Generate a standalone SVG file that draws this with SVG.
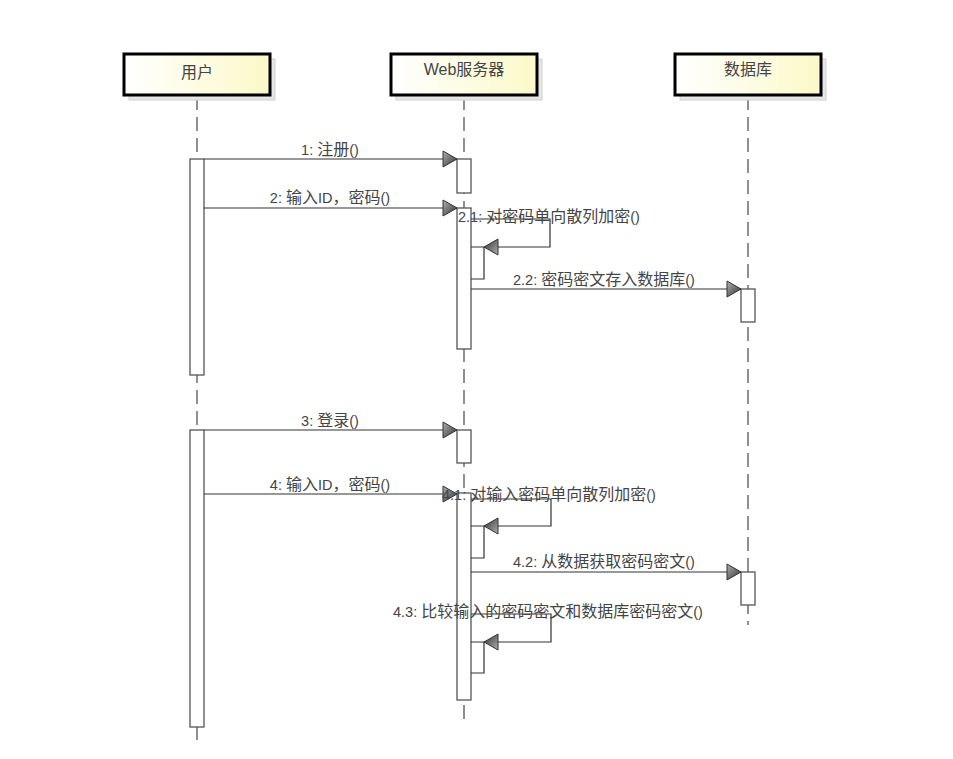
<svg xmlns="http://www.w3.org/2000/svg" width="953" height="759" viewBox="0 0 953 759">
<defs>
<linearGradient id="boxg" x1="0" y1="0" x2="1" y2="0">
<stop offset="0" stop-color="#ffffff"/>
<stop offset="1" stop-color="#fbf9c8"/>
</linearGradient>
<linearGradient id="arrg" x1="0" y1="0" x2="1" y2="1">
<stop offset="0" stop-color="#b0b0b0"/>
<stop offset="1" stop-color="#303030"/>
</linearGradient>
<marker id="arr" markerWidth="16" markerHeight="18" refX="15" refY="9" orient="auto" markerUnits="userSpaceOnUse">
<path d="M1,1 L15,9 L1,17 Z" fill="url(#arrg)" stroke="#333" stroke-width="1"/>
</marker>
</defs>
<style>
.shadow{fill:#e6e6e6;stroke:#d0d0d0;stroke-width:1}
.box{fill:url(#boxg);stroke:#000;stroke-width:3}
.title{font-family:"Liberation Sans","Noto Sans CJK SC",sans-serif;font-size:16px;fill:#444;text-anchor:middle}
.life{stroke:#555;stroke-width:1.3;stroke-dasharray:14 7;fill:none}
.act{fill:#fff;stroke:#555;stroke-width:1.3}
.msg{stroke:#333;stroke-width:1.2;fill:none}
.lbl{font-family:"Liberation Sans","Noto Sans CJK SC",sans-serif;font-size:16px;fill:#444}
.lt{font-size:14.5px}
</style>
<rect width="953" height="759" fill="#fff"/>
<g id="lifelines">
<line class="life" x1="197" y1="96" x2="197" y2="746"/>
<line class="life" x1="464" y1="96" x2="464" y2="720"/>
<line class="life" x1="748" y1="96" x2="748" y2="625"/>
</g>
<g id="user">
<rect class="shadow" x="129" y="59" width="146" height="41"/>
<rect class="box" x="124" y="54" width="146" height="41"/>
<text class="title" x="197" y="78">用户</text>
</g>
<g id="web">
<rect class="shadow" x="396" y="59" width="146" height="41"/>
<rect class="box" x="391" y="54" width="146" height="41"/>
<text class="title" x="464" y="75">Web服务器</text>
</g>
<g id="db">
<rect class="shadow" x="680" y="59" width="146" height="41"/>
<rect class="box" x="675" y="54" width="146" height="41"/>
<text class="title" x="748" y="75">数据库</text>
</g>
<g id="activations">
<rect class="act" x="190" y="159" width="14" height="216"/>
<rect class="act" x="190" y="430" width="14" height="297"/>
<rect class="act" x="457" y="159" width="14" height="34"/>
<rect class="act" x="457" y="208" width="14" height="141"/>
<rect class="act" x="457" y="430" width="14" height="33"/>
<rect class="act" x="457" y="493" width="14" height="207"/>
<rect class="act" x="741" y="289" width="14" height="33"/>
<rect class="act" x="741" y="572" width="14" height="33"/>
</g>
<g id="connectors">
<line class="msg" x1="204" y1="159" x2="457" y2="159" marker-end="url(#arr)"/>
<line class="msg" x1="204" y1="208" x2="457" y2="208" marker-end="url(#arr)"/>
<polyline class="msg" points="471,219 550,219 550,247 484,247" marker-end="url(#arr)"/>
<polyline class="msg" points="471,247 484,247 484,279 471,279"/>
<line class="msg" x1="471" y1="289" x2="741" y2="289" marker-end="url(#arr)"/>
<line class="msg" x1="204" y1="430" x2="457" y2="430" marker-end="url(#arr)"/>
<line class="msg" x1="204" y1="494" x2="457" y2="494" marker-end="url(#arr)"/>
<polyline class="msg" points="471,499 551,499 551,526 484,526" marker-end="url(#arr)"/>
<polyline class="msg" points="471,526 484,526 484,558 471,558"/>
<line class="msg" x1="471" y1="572" x2="741" y2="572" marker-end="url(#arr)"/>
<polyline class="msg" points="471,614 551,614 551,642 484,642" marker-end="url(#arr)"/>
<polyline class="msg" points="471,642 484,642 484,673 471,673"/>
</g>
<g id="labels">
<text class="lbl" x="330" y="155" text-anchor="middle"><tspan class="lt">1: </tspan>注册<tspan class="lt">()</tspan></text>
<text class="lbl" x="330" y="203" text-anchor="middle"><tspan class="lt">2: </tspan>输入<tspan class="lt">ID</tspan>，密码<tspan class="lt">()</tspan></text>
<text class="lbl" x="458" y="222"><tspan class="lt">2.1: </tspan>对密码单向散列加密<tspan class="lt">()</tspan></text>
<text class="lbl" x="513" y="285"><tspan class="lt">2.2: </tspan>密码密文存入数据库<tspan class="lt">()</tspan></text>
<text class="lbl" x="330" y="426" text-anchor="middle"><tspan class="lt">3: </tspan>登录<tspan class="lt">()</tspan></text>
<text class="lbl" x="330" y="490" text-anchor="middle"><tspan class="lt">4: </tspan>输入<tspan class="lt">ID</tspan>，密码<tspan class="lt">()</tspan></text>
<text class="lbl" x="442" y="500"><tspan class="lt">4.1: </tspan>对输入密码单向散列加密<tspan class="lt">()</tspan></text>
<text class="lbl" x="513" y="567"><tspan class="lt">4.2: </tspan>从数据获取密码密文<tspan class="lt">()</tspan></text>
<text class="lbl" x="393" y="617"><tspan class="lt">4.3: </tspan>比较输入的密码密文和数据库密码密文<tspan class="lt">()</tspan></text>
</g>
</svg>
